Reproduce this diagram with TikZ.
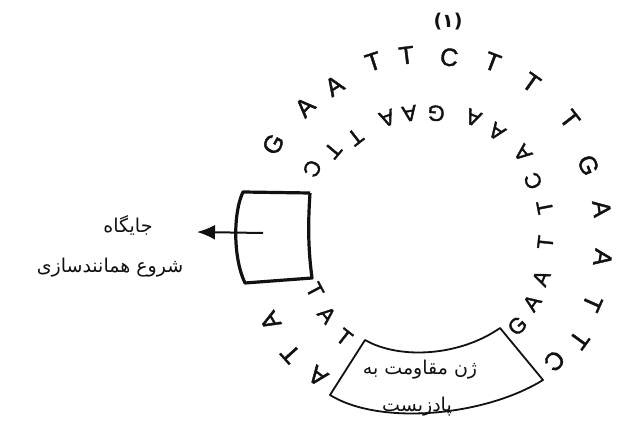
\documentclass[tikz,border=0pt]{standalone}
\usepackage{fontspec}
\usepackage{tikz}
\usetikzlibrary{arrows.meta,positioning,calc}
\TeXXeTstate=1
\newfontfamily\arabicfont[Script=Arabic]{DejaVu Sans}
\newfontfamily\basefont[FakeBold=1.6]{Liberation Sans}
\newfontfamily\digitfont{DejaVu Sans}
\definecolor{ink}{HTML}{111111}

\begin{document}
\begin{tikzpicture}[
  x=1pt, y=1pt,
  outbase/.style={font=\basefont\fontsize{25}{25}\selectfont, inner sep=0pt, text=ink},
  inbase/.style={font=\basefont\fontsize{22}{22}\selectfont, inner sep=0pt, text=ink},
  block/.style={draw=ink, line width=3.2pt, line join=round},
  gene/.style={draw=ink, line width=1.8pt, line join=round},
  label/.style={font=\arabicfont\fontsize{19}{21}\selectfont, text=ink, inner sep=0pt},
  arrow/.style={-{Latex[length=18pt,width=15pt]}, line width=2pt, draw=ink, fill=ink}
]
  \useasboundingbox (0,0) rectangle (628,428);
  \coordinate (ctr) at (428,198);

  % outer strand
  \foreach \a/\r/\b [count=\i] in {151/177/G,135/174/A,123/172/A,108/177/T,97/176/T,83/174/C,
      69/180/T,55/180/T,38/180/T,22/173/G,7/175/A,-9/177/A,-24/180/T,-36/187/T,-46/182/C,
      210/182/A,222/185/T,233/183/A}
    \node[outbase, rotate=\a-90] (o\i) at ($(ctr)+(\a:\r)$) {\b};

  % inner strand
  \foreach \a/\r/\b [count=\i] in {152/131/C,140/124/T,128/118/T,110/119/A,99/118/A,86/117/G,
      68/121/A,55/120/A,39/122/A,25/116/C,11/119/T,-6/118/T,-23/123/A,-35/127/A,-47/131/G,
      208/128/T,220/132/A,232/136/T}
    \node[inbase, rotate=\a+90] (i\i) at ($(ctr)+(\a:\r)$) {\b};

  % origin of replication
  \draw[block] (310,235) -- (243,236) .. controls (233,215) and (233,170) .. (245,145)
    -- (312,150) .. controls (308,180) and (308,205) .. (310,235);
  \coordinate (oriTail) at (263,195);
  \coordinate (oriTip) at (197,196);
  \draw[arrow] (oriTail) -- (oriTip);
  \node[label] (ori1) at (128,203) {\beginR جایگاه\endR};
  \node[label] (ori2) at (110,160) {\beginR شروع همانندسازی\endR};

  % resistance gene
  \draw[gene] (365,88) .. controls (400,68) and (460,72) .. (500,100) -- (543,48)
    .. controls (485,12) and (380,2) .. (330,33) -- cycle;
  \node[label] (gene1) at (420,58) {\beginR ژن مقاومت به\endR};
  \node[label] (gene2) at (417,21) {\beginR پادزیست\endR};

  \node[font=\digitfont\bfseries\fontsize{19}{19}\selectfont, text=ink] (num) at (448,406) {(۱)};
\end{tikzpicture}
\end{document}
